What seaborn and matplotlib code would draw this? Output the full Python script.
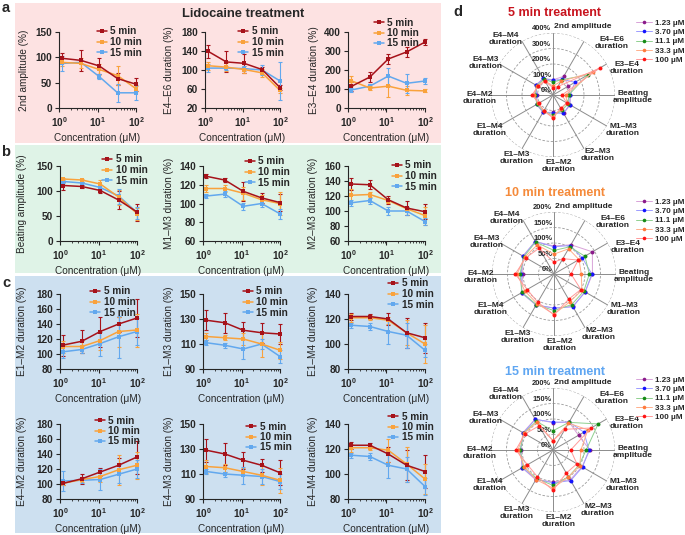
import numpy as np
import pandas as pd
import matplotlib
matplotlib.use("Agg")
import matplotlib.pyplot as plt
import seaborn as sns
from matplotlib.patches import Rectangle
from matplotlib.lines import Line2D

# concentrations (uM) and treatment times
conc = [1.23, 3.70, 11.1, 33.3, 100]
conc_labels = ["1.23 \u03bcM", "3.70 \u03bcM", "11.1 \u03bcM", "33.3 \u03bcM", "100 \u03bcM"]
times = ["5 min", "10 min", "15 min"]

# mean values, rows = 5, 10, 15 min
amp2_mean = [[98, 94, 83, 58, 47], [90, 88, 76, 64, 38], [88, 90, 62, 30, 30]]
amp2_err = [[10, 21, 15, 12, 13], [8, 10, 10, 18, 5], [14, 4, 5, 18, 15]]
e4e6_mean = [[139, 117, 114, 101, 63], [109, 106, 101, 94, 57], [104, 104, 103, 100, 77]]
e4e6_err = [[13, 22, 20, 5, 5], [8, 8, 8, 8, 5], [8, 5, 5, 10, 40]]
e3e4_mean = [[114, 163, 258, 295, 347], [143, 105, 115, 93, 90], [95, 115, 168, 130, 142]]
e3e4_err = [[25, 28, 25, 25, 15], [25, 10, 55, 25, 8], [10, 10, 45, 50, 15]]
beat_mean = [[111, 109, 101, 82, 58], [124, 122, 114, 88, 55], [119, 116, 107, 90, 57]]
beat_err = [[8, 3, 5, 18, 17], [3, 3, 8, 15, 12], [3, 3, 5, 15, 12]]
m1m3_mean = [[129, 125, 113, 106, 101], [116, 116, 111, 104, 100], [108, 110, 97, 100, 89]]
m1m3_err = [[2, 2, 10, 5, 9], [4, 4, 7, 5, 12], [2, 3, 4, 4, 5]]
m2m3_mean = [[136, 135, 115, 104, 99], [121, 122, 114, 103, 94], [111, 114, 100, 100, 86]]
m2m3_err = [[8, 6, 5, 9, 10], [9, 3, 3, 3, 12], [4, 4, 5, 5, 5]]
e1m2_mean = [[112, 117, 130, 140, 148], [110, 110, 118, 130, 132], [103, 106, 114, 123, 130]]
e1m2_err = [[14, 15, 20, 10, 25], [8, 8, 12, 20, 22], [8, 5, 16, 28, 18]]
e1m3_mean = [[129, 127, 121, 119, 118], [116, 115, 114, 110, 105], [111, 109, 106, 110, 100]]
e1m3_err = [[8, 8, 7, 8, 8], [3, 2, 5, 10, 7], [2, 2, 8, 4, 5]]
e1m4_mean = [[122, 122, 120, 109, 105], [121, 121, 119, 109, 100], [115, 114, 110, 107, 95]]
e1m4_err = [[3, 2, 5, 12, 12], [3, 2, 3, 10, 15], [2, 3, 10, 10, 5]]
e4m2_mean = [[101, 107, 116, 125, 136], [101, 106, 110, 119, 125], [104, 105, 106, 113, 120]]
e4m2_err = [[2, 7, 5, 10, 22], [2, 3, 7, 20, 18], [13, 3, 14, 12, 12]]
e4m3_mean = [[129, 126, 121, 117, 111], [116, 115, 112, 109, 105], [112, 110, 109, 108, 104]]
e4m3_err = [[9, 9, 7, 5, 10], [5, 3, 3, 8, 10], [2, 2, 7, 6, 6]]
e4m4_mean = [[123, 123, 116, 107, 102], [121, 121, 119, 108, 96], [115, 114, 107, 104, 90]]
e4m4_err = [[3, 2, 6, 12, 13], [3, 2, 9, 14, 12], [2, 3, 10, 10, 7]]

sns.set_style("ticks")
plt.rcParams["font.family"] = ["Liberation Sans", "DejaVu Sans"]
plt.rcParams["font.weight"] = "bold"
plt.rcParams["mathtext.default"] = "regular"

W, H = 685, 535
fig = plt.figure(figsize=(W / 100, H / 100), dpi=100)


def px_rect(x0, y0, x1, y1):
    return [x0 / W, 1 - y1 / H, (x1 - x0) / W, (y1 - y0) / H]


# coloured panel backgrounds
for (x0, y0, x1, y1, col) in [(15, 3, 441, 143, "#fde2e2"),
                              (15, 145, 441, 273, "#dff3e7"),
                              (15, 276, 441, 533, "#cde0f0")]:
    fig.add_artist(Rectangle((x0 / W, 1 - y1 / H), (x1 - x0) / W, (y1 - y0) / H,
                             transform=fig.transFigure, color=col, zorder=-10, lw=0))

line_cols = ["#a6121a", "#f9a23c", "#62a8ee"]
fs = 7.2

# line charts: (mean, err, ylabel, ylim, step, axes box px, legend px, ylabel x px)
charts = [
    (amp2_mean, amp2_err, "2nd amplitude (%)", (0, 150), 50, (59, 32, 136, 108), (97, 32), 25),
    (e4e6_mean, e4e6_err, "E4\u2013E6 duration (%)", (20, 180), 40, (205, 32, 280, 108), (238, 32), 170),
    (e3e4_mean, e3e4_err, "E3\u2013E4 duration (%)", (0, 400), 100, (348, 32, 425, 108), (374, 23), 315),
    (beat_mean, beat_err, "Beating amplitude (%)", (0, 150), 50, (60, 166, 137, 241), (102, 160), 23),
    (m1m3_mean, m1m3_err, "M1\u2013M3 duration (%)", (60, 140), 20, (203, 166, 280, 241), (245, 162), 170),
    (m2m3_mean, m2m3_err, "M2\u2013M3 duration (%)", (60, 160), 20, (348, 166, 425, 241), (392, 166), 314),
    (e1m2_mean, e1m2_err, "E1\u2013M2 duration (%)", (80, 180), 20, (60, 294, 137, 369), (90, 292), 23),
    (e1m3_mean, e1m3_err, "E1\u2013M3 duration (%)", (90, 150), 20, (203, 294, 280, 369), (243, 292), 170),
    (e1m4_mean, e1m4_err, "E1\u2013M4 duration (%)", (80, 140), 20, (348, 294, 425, 369), (388, 284), 314),
    (e4m2_mean, e4m2_err, "E4\u2013M2 duration (%)", (80, 180), 20, (60, 424, 137, 499), (95, 421), 23),
    (e4m3_mean, e4m3_err, "E4\u2013M3 duration (%)", (90, 150), 20, (203, 424, 280, 499), (246, 427), 170),
    (e4m4_mean, e4m4_err, "E4\u2013M4 duration (%)", (80, 140), 20, (348, 424, 425, 499), (388, 417), 314),
]

for mean, err, ylab, ylim, step, box, leg, ylx in charts:
    ax = fig.add_axes(px_rect(*box))
    ax.set_facecolor("none")
    rows = []
    for t, m in zip(times, mean):
        for c, v in zip(conc, m):
            rows.append({"conc": c, "value": v, "time": t})
    df = pd.DataFrame(rows)
    for k in [2, 1, 0]:
        sub = df[df["time"] == times[k]]
        ax.errorbar(conc, mean[k], yerr=err[k], fmt="none", ecolor=line_cols[k],
                    elinewidth=0.8, capsize=1.6, capthick=0.8, clip_on=False, zorder=2 + k * 0.1)
        sns.lineplot(data=sub, x="conc", y="value", color=line_cols[k], marker="s",
                     markersize=3, markeredgewidth=0, linewidth=1.1, label=times[k],
                     ax=ax, clip_on=False, zorder=3 - k * 0.1)
    ax.set_xscale("log")
    ax.set_xlim(1, 100)
    ax.set_ylim(*ylim)
    ax.set_yticks(np.arange(ylim[0], ylim[1] + 1, step))
    ax.set_xticks([1, 10, 100])
    ax.tick_params(labelsize=fs, length=3, width=0.8, pad=2)
    ax.tick_params(which="minor", length=1.6, width=0.6)
    for s in ["top", "right"]:
        ax.spines[s].set_visible(False)
    for s in ["left", "bottom"]:
        ax.spines[s].set_linewidth(0.8)
    ax.set_xlabel("Concentration (\u03bcM)", fontsize=fs, labelpad=3)
    ax.set_ylabel(ylab, fontsize=fs)
    ax.yaxis.set_label_coords((ylx + 4 - box[0]) / (box[2] - box[0]), 0.5)
    h, l = ax.get_legend_handles_labels()
    ax.legend(h[::-1], l[::-1], loc="upper left",
              bbox_to_anchor=(leg[0] / W, 1 - (leg[1] - 5.5) / H), bbox_transform=fig.transFigure,
              frameon=False, fontsize=fs, handlelength=1.0, handletextpad=0.35,
              labelspacing=0.05, borderpad=0, borderaxespad=0)

fig.text(243 / W, 1 - 14 / H, "Lidocaine treatment", fontsize=9.3, fontweight="bold",
         ha="center", va="center")
for letter, x, y in [("a", 6, 8), ("b", 6, 152), ("c", 6, 283), ("d", 458, 12)]:
    fig.text(x / W, 1 - y / H, letter, fontsize=10.5, fontweight="bold", ha="center", va="center")

# radar charts
spoke_params = [amp2_mean, e4e6_mean, e3e4_mean, beat_mean, m1m3_mean, m2m3_mean,
                e1m2_mean, e1m3_mean, e1m4_mean, e4m2_mean, e4m3_mean, e4m4_mean]
radar_marker = ["#8a1a8a", "#1414ff", "#168a16", "#ff7a3c", "#ff1414"]
radar_line = ["#d8a2d8", "#9c9cff", "#8fd08f", "#ffb08c", "#ff9a9a"]
label_offsets = [(1, -68), (59, -52), (74, -27), (80, 2), (70, 35), (45, 60),
                 (6, 71), (-36, 63), (-63, 35), (-73, 3), (-67, -32), (-47, -56)]
theta = np.deg2rad(np.arange(12) * 30)


def radar(cx, cy, t_idx, rmax, rings, title, tcol, ty, ly, m2m3_name):
    R = 62
    ax = fig.add_axes(px_rect(cx - R, cy - R, cx + R, cy + R), projection="polar")
    ax.set_theta_zero_location("N")
    ax.set_theta_direction(-1)
    ax.axis("off")
    ax.set_ylim(0, rmax)
    circ = np.linspace(0, 2 * np.pi, 200)
    for r in rings:
        ax.plot(circ, [r] * 200, ls=(0, (3, 2)), color="#9a9a9a", lw=0.6, zorder=1)
    for th in theta:
        ax.plot([th, th], [0, rmax], color="#8c8c8c", lw=0.7, zorder=1)
    for r in [0] + rings:
        ax.annotate("%d%%" % r, xy=(0, r), xytext=(-1.2, 3), textcoords="offset points",
                    ha="right", va="center", fontsize=5.4, zorder=5)
    for i in range(5):
        vals = [p[t_idx][i] for p in spoke_params]
        ax.plot(np.append(theta, theta[0]), vals + [vals[0]], color=radar_line[i], lw=0.7, zorder=2 + i)
        sns.scatterplot(x=theta, y=vals, color=radar_marker[i], s=8, linewidth=0, ax=ax,
                        zorder=3 + i, clip_on=False)
    names = ["2nd amplitude", "E4\u2013E6\nduration", "E3\u2013E4\nduration", "Beating\namplitude",
             "M1\u2013M3\nduration", m2m3_name + "\nduration", "E1\u2013M2\nduration",
             "E1\u2013M3\nduration", "E1\u2013M4\nduration", "E4\u2013M2\nduration",
             "E4\u2013M3\nduration", "E4\u2013M4\nduration"]
    for k, (name, (dx, dy)) in enumerate(zip(names, label_offsets)):
        fig.text((cx + dx) / W, 1 - (cy + dy) / H, name, fontsize=6, ha="left" if k == 0 else "center",
                 va="center", linespacing=1.15)
    fig.text(555 / W, 1 - ty / H, title, fontsize=9, fontweight="bold", color=tcol,
             ha="center", va="center")
    handles = [Line2D([], [], color=radar_line[i], lw=0.7, marker="o", markersize=2.6,
                      markerfacecolor=radar_marker[i], markeredgewidth=0) for i in range(5)]
    fig.legend(handles, conc_labels, loc="upper left", bbox_to_anchor=(636 / W, 1 - ly / H),
               frameon=False, fontsize=5.8, handlelength=2.0, handletextpad=0.4,
               labelspacing=0.22, borderpad=0, borderaxespad=0)


radar(553, 95, 0, 400, [100, 200, 300, 400], "5 min treatment", "#c8141e", 13, 19, "E2\u2013M3")
radar(554, 274, 1, 200, [50, 100, 150, 200], "10 min treatment", "#f58a3a", 193, 198, "M2\u2013M3")
radar(553, 450, 2, 200, [50, 100, 150, 200], "15 min treatment", "#5fa6f2", 372, 376, "M2\u2013M3")

fig.savefig("out.png", dpi=100)
